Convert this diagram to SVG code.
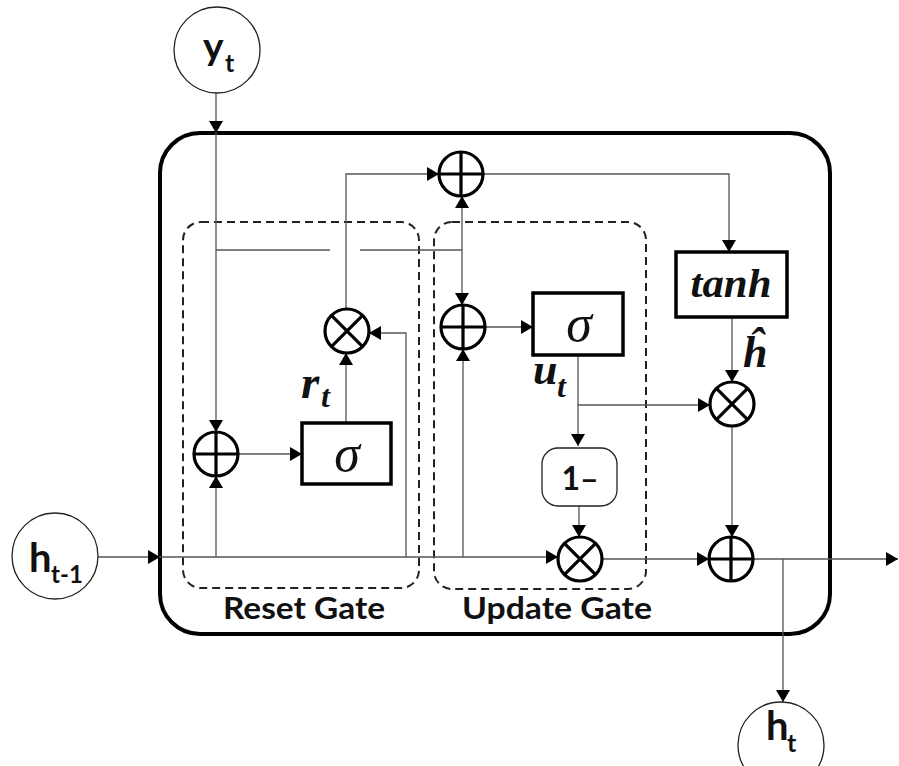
<svg xmlns="http://www.w3.org/2000/svg" width="899" height="766" viewBox="0 0 899 766">
<defs>
<marker id="a" markerWidth="12" markerHeight="14" refX="12" refY="7" orient="auto" markerUnits="userSpaceOnUse"><path d="M0,0 L12,7 L0,14 z" fill="#000"/></marker>
<style>
.c{fill:none;stroke:#555;stroke-width:1.3;marker-end:url(#a)}
.l{fill:none;stroke:#555;stroke-width:1.3}
.op{fill:#fff;stroke:#000;stroke-width:3.2}
.io{fill:#fff;stroke:#222;stroke-width:1.3}
.bx{fill:#fff;stroke:#000;stroke-width:3.5}
.dash{fill:none;stroke:#222;stroke-width:2;stroke-dasharray:8 5}
.sans{font-family:Lato,"Liberation Sans",sans-serif;font-weight:bold;fill:#111}
.math{font-family:"Liberation Serif",serif;font-weight:bold;font-style:italic;fill:#111}
.sig{font-family:"Liberation Serif",serif;font-style:italic;fill:#111}
</style>
</defs>
<rect x="0" y="0" width="899" height="766" fill="#fff"/>
<g id="cell"><rect x="160" y="133" width="670" height="501" rx="40" fill="none" stroke="#000" stroke-width="4"/></g>
<g id="reset-gate"><rect class="dash" x="183" y="222" width="236" height="366" rx="18"/><text class="sans" x="304" y="619" font-size="30" text-anchor="middle" textLength="162" lengthAdjust="spacingAndGlyphs">Reset Gate</text></g>
<g id="update-gate"><rect class="dash" x="434" y="222" width="212" height="367" rx="18"/><text class="sans" x="557" y="619" font-size="30" text-anchor="middle" textLength="190" lengthAdjust="spacingAndGlyphs">Update Gate</text></g>
<g id="connectors">
<path class="c" d="M216,93 V133"/>
<path class="c" d="M216,133 V432"/>
<path class="l" d="M216,250 H330 M360,250 H462"/>
<path class="c" d="M462,250 V196"/>
<path class="c" d="M462,250 V305"/>
<path class="c" d="M98,557 H160"/>
<path class="c" d="M160,557 H558"/>
<path class="c" d="M216,557 V476"/>
<path class="c" d="M406,557 V333 H369"/>
<path class="c" d="M463,557 V349"/>
<path class="c" d="M238,454 H302"/>
<path class="c" d="M346,423 V353"/>
<path class="c" d="M346,309 V174 H439"/>
<path class="c" d="M483,174 H729 V252"/>
<path class="c" d="M732,317 V382"/>
<path class="c" d="M485,327 H533"/>
<path class="c" d="M578,355 V446"/>
<path class="c" d="M578,405 H710"/>
<path class="c" d="M579,506 V537"/>
<path class="c" d="M602,559 H709"/>
<path class="c" d="M732,426 V537"/>
<path class="c" d="M753,559 H898"/>
<path class="c" d="M783,559 V702"/>
</g>
<g id="yt"><circle class="io" cx="217" cy="50" r="43"/><text class="sans" x="203" y="60" font-size="39">y</text><text class="sans" x="225" y="72" font-size="25">t</text></g>
<g id="h-prev"><circle class="io" cx="55" cy="556" r="43"/><text class="sans" x="29" y="572" font-size="40">h</text><text class="sans" x="51" y="583" font-size="24">t-1</text></g>
<g id="ht"><circle class="io" cx="781" cy="745" r="43"/><text class="sans" x="766" y="740" font-size="40">h</text><text class="sans" x="787" y="752" font-size="25">t</text></g>
<g id="reset-add"><circle class="op" cx="216" cy="454" r="22"/><path d="M194,454 H238 M216,432 V476" stroke="#000" stroke-width="3.2"/></g>
<g id="reset-sigma"><rect class="bx" x="302" y="423" width="89" height="61"/><text class="sig" x="347" y="471" font-size="52" text-anchor="middle">σ</text></g>
<g id="reset-mul"><circle class="op" cx="347" cy="331" r="22"/><path d="M331.4,315.4 L362.6,346.6 M362.6,315.4 L331.4,346.6" stroke="#000" stroke-width="3.2"/></g>
<g id="rt-label"><text class="math" x="301" y="398" font-size="47">r<tspan x="321" y="407" font-size="32">t</tspan></text></g>
<g id="top-add"><circle class="op" cx="461" cy="174" r="22"/><path d="M439,174 H483 M461,152 V196" stroke="#000" stroke-width="3.2"/></g>
<g id="update-add"><circle class="op" cx="463" cy="327" r="22"/><path d="M441,327 H485 M463,305 V349" stroke="#000" stroke-width="3.2"/></g>
<g id="update-sigma"><rect class="bx" x="533" y="293" width="90" height="62"/><text class="sig" x="579" y="341" font-size="52" text-anchor="middle">σ</text></g>
<g id="ut-label"><text class="math" x="533" y="384" font-size="44">u<tspan x="557" y="397" font-size="32">t</tspan></text></g>
<g id="one-minus"><rect x="542" y="448" width="75" height="58" rx="16" fill="#fff" stroke="#222" stroke-width="1.3"/><text class="sans" x="580" y="490" font-size="32" text-anchor="middle">1–</text></g>
<g id="bottom-mul"><circle class="op" cx="580" cy="559" r="22"/><path d="M564.4,543.4 L595.6,574.6 M595.6,543.4 L564.4,574.6" stroke="#000" stroke-width="3.2"/></g>
<g id="tanh"><rect class="bx" x="676" y="252" width="111" height="65"/><text class="math" x="731" y="297" font-size="39" text-anchor="middle" textLength="81" lengthAdjust="spacingAndGlyphs">tanh</text></g>
<g id="hhat-label"><text class="math" x="743" y="367" font-size="44">ĥ</text></g>
<g id="right-mul"><circle class="op" cx="732" cy="404" r="22"/><path d="M716.4,388.4 L747.6,419.6 M747.6,388.4 L716.4,419.6" stroke="#000" stroke-width="3.2"/></g>
<g id="right-add"><circle class="op" cx="731" cy="559" r="22"/><path d="M709,559 H753 M731,537 V581" stroke="#000" stroke-width="3.2"/></g>
</svg>
